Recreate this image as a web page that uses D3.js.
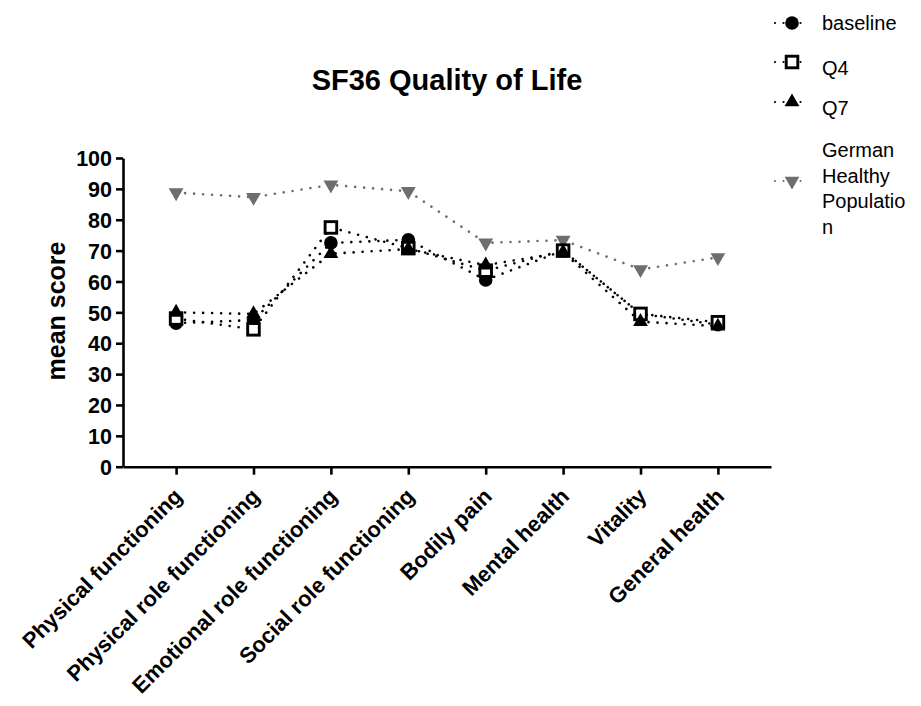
<!DOCTYPE html>
<html lang="en">
<head>
<meta charset="UTF-8">
<title>SF36 Quality of Life</title>
<script src="https://d3js.org/d3.v7.min.js"></script>
<style>
    body {
        margin: 0;
        background: #fff;
        font-family: "Liberation Sans", Arial, sans-serif;
    }
    .title { font-size: 29px; font-weight: bold; text-anchor: middle; }
    .ylabel { font-size: 25px; font-weight: bold; text-anchor: middle; }
    .tick text { font-family: "Liberation Sans", Arial, sans-serif; font-weight: bold; fill: #000; }
    .legend text { font-size: 20px; }
</style>
</head>
<body>
<script>
    const width = 921;
    const height = 706;

    // data
    const categories = ["Physical functioning", "Physical role functioning", "Emotional role functioning",
        "Social role functioning", "Bodily pain", "Mental health", "Vitality", "General health"];
    const baseline = [46.5, 47.5, 72.5, 73.5, 60.5, 70.0, 49.5, 46.0];
    const q4 = [48.0, 44.5, 77.5, 70.8, 63.5, 70.0, 49.5, 46.8];
    const q7 = [50.0, 49.5, 69.0, 70.5, 65.3, 69.5, 47.0, 45.5];
    const german = [88.8, 87.3, 91.3, 89.2, 72.5, 73.4, 63.9, 67.8];
    const yTicks = [0, 10, 20, 30, 40, 50, 60, 70, 80, 90, 100];

    const series = [
        { name: "German Healthy Population", values: german, shape: "down", color: "#6e6e6e" },
        { name: "baseline", values: baseline, shape: "circle", color: "#000" },
        { name: "Q4", values: q4, shape: "square", color: "#000" },
        { name: "Q7", values: q7, shape: "up", color: "#000" }
    ];

    const svg = d3.select("body").append("svg")
        .attr("width", width)
        .attr("height", height);

    const x = d3.scalePoint().domain(categories).range([123, 771]).padding(0.686);
    const y = d3.scaleLinear().domain([0, 100]).range([466.7, 158]);

    // draws a marker shape at the origin of g
    function drawMarker(g, shape, color) {
        if (shape === "circle") {
            g.append("circle").attr("r", 6.8).attr("fill", color);
        } else if (shape === "square") {
            g.append("rect").attr("x", -5.8).attr("y", -5.8).attr("width", 11.6).attr("height", 11.6)
                .attr("fill", "#fff").attr("stroke", color).attr("stroke-width", 2.9);
        } else if (shape === "up") {
            g.append("path").attr("d", d3.symbol(d3.symbolTriangle, 95)()).attr("fill", color);
        } else {
            g.append("path").attr("d", d3.symbol(d3.symbolTriangle, 95)())
                .attr("transform", "rotate(180)").attr("fill", color);
        }
    }

    // title
    svg.append("text").attr("class", "title").attr("x", 447).attr("y", 90).text("SF36 Quality of Life");

    // y label
    svg.append("text").attr("class", "ylabel")
        .attr("transform", "translate(65,311) rotate(-90)")
        .text("mean score");

    // axes
    const yAxis = svg.append("g")
        .attr("transform", "translate(123,0)")
        .call(d3.axisLeft(y).tickValues(yTicks).tickSize(7).tickSizeOuter(0).tickPadding(4));
    yAxis.selectAll(".tick text").style("font-size", "21.5px").attr("dy", "0.36em");

    const xAxis = svg.append("g")
        .attr("transform", "translate(0,466.7)")
        .call(d3.axisBottom(x).tickSize(8).tickSizeOuter(0));
    xAxis.selectAll(".tick text")
        .style("font-size", "22px")
        .attr("text-anchor", "end")
        .attr("x", 0).attr("y", 0).attr("dy", 0)
        .attr("transform", "translate(7,31) rotate(-45)");

    svg.selectAll(".domain, .tick line").attr("stroke", "#000").attr("stroke-width", 2.6);

    // lines
    const line = d3.line().x((d, i) => x(categories[i])).y(d => y(d));
    series.forEach(s => {
        svg.append("path")
            .datum(s.values)
            .attr("d", line)
            .attr("fill", "none")
            .attr("stroke", s.color)
            .attr("stroke-width", 2.6)
            .attr("stroke-linecap", "round")
            .attr("stroke-dasharray", "0.01 9");
    });

    // markers
    series.forEach(s => {
        s.values.forEach((v, i) => {
            const g = svg.append("g").attr("transform", `translate(${x(categories[i])},${y(v)})`);
            drawMarker(g, s.shape, s.color);
        });
    });

    // legend
    const legendRows = [
        { s: series[1], y: 23, lines: ["baseline"], ty: 30 },
        { s: series[2], y: 62, lines: ["Q4"], ty: 75 },
        { s: series[3], y: 102, lines: ["Q7"], ty: 115 },
        { s: series[0], y: 181, lines: ["German", "Healthy", "Populatio", "n"], ty: 157 }
    ];
    const legend = svg.append("g").attr("class", "legend");
    legendRows.forEach(r => {
        legend.append("line")
            .attr("x1", 775).attr("x2", 809).attr("y1", r.y).attr("y2", r.y)
            .attr("stroke", r.s.color).attr("stroke-width", 2.2)
            .attr("stroke-linecap", "round").attr("stroke-dasharray", "0.01 8.5");
        const g = legend.append("g").attr("transform", `translate(792,${r.y})`);
        drawMarker(g, r.s.shape, r.s.color);
        r.lines.forEach((t, i) => {
            legend.append("text").attr("x", 822).attr("y", r.ty + i * 25.5).text(t);
        });
    });
</script>
</body>
</html>
